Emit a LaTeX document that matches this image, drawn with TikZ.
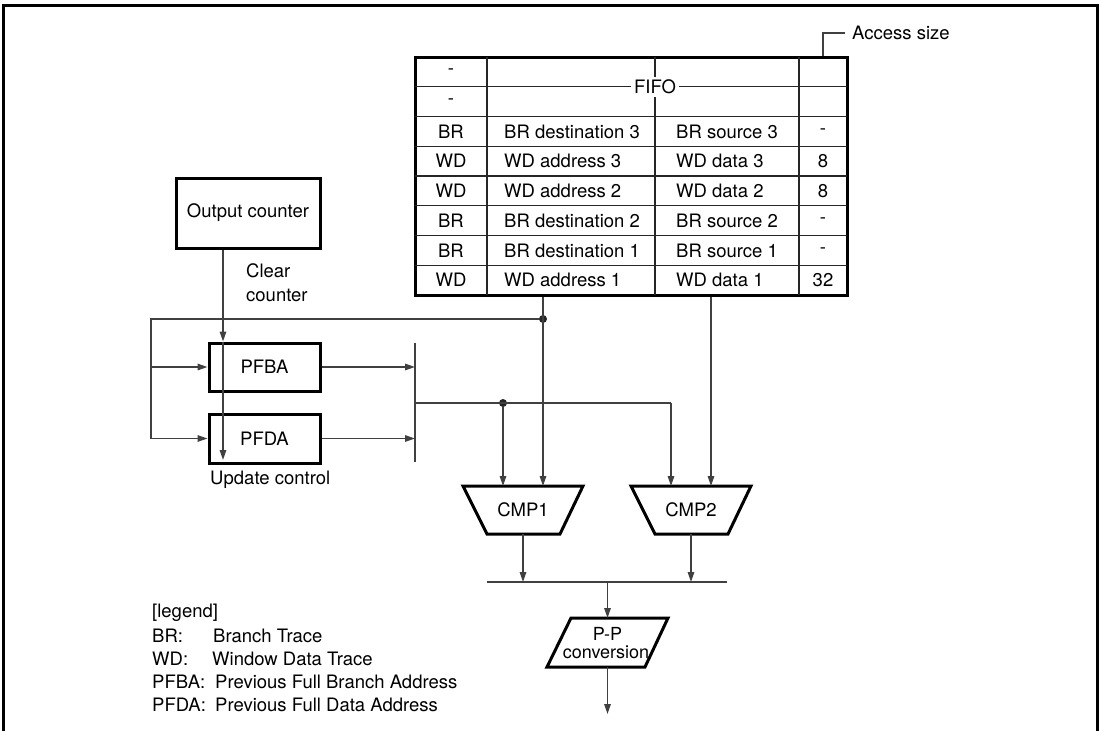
\documentclass[tikz,border=0pt]{standalone}
\usepackage{fontspec}
\setmainfont{TeX Gyre Heros}
\usetikzlibrary{arrows.meta}
\begin{document}
\begin{tikzpicture}[x=1pt,y=-1pt,
  txt/.style={font=\fontsize{18.5}{16}\selectfont, inner sep=0pt},
  box/.style={draw, line width=3pt, txt},
  grid/.style={line width=1.3pt, draw=black!85},
  conn/.style={line width=1.4pt, draw=black!75},
  arr/.style={conn, -{Triangle[length=10pt,width=6.5pt]}},
  dot/.style={circle, fill=black!85, inner sep=0pt, minimum size=8pt},
  frame/.style={line width=3pt}
]
\useasboundingbox (0,0) rectangle (1101,731);
\draw[frame] (3.5,731) -- (3.5,5) -- (1097,5) -- (1097,731);

% ---------- FIFO table ----------
\node[draw, line width=3pt, minimum width=432pt, minimum height=238pt, inner sep=0pt] (fifo) at (631,176) {};
\foreach \xx in {487,655,799} \draw[grid] (\xx,57) -- (\xx,295);
\foreach \yy in {86.75,116.5,146.25,176,205.75,235.5,265.25} \draw[grid] (415,\yy) -- (847,\yy);
\node[txt, fill=white, inner xsep=3pt, inner ysep=3pt] (fifolbl) at (655,87) {FIFO};
\node[txt] (r1a) at (451,72) {-};
\node[txt] (r2a) at (451,101.6) {-};
\foreach \yy/\a/\b/\c/\d [count=\i] in {
  131.4/BR/BR destination 3/BR source 3/-,
  161.1/WD/WD address 3/WD data 3/8,
  190.9/WD/WD address 2/WD data 2/8,
  220.6/BR/BR destination 2/BR source 2/-,
  250.4/BR/BR destination 1/BR source 1/-,
  280.1/WD/WD address 1/WD data 1/32}{
  \node[txt] (ca\i) at (451,\yy) {\a};
  \node[txt, anchor=west] (cb\i) at (504,\yy) {\b};
  \node[txt, anchor=west] (cc\i) at (676,\yy) {\c};
  \node[txt] (cd\i) at (823,\yy) {\d};
}
% access size
\node[txt, anchor=west] (acc) at (852,33) {Access size};
\coordinate (accend) at (845,33);
\draw[conn] (fifo.north -| 823,0) |- (accend);

% ---------- Output counter, PFBA, PFDA ----------
\node[box, minimum width=144pt, minimum height=70pt] (oc) at (248,213) {Output counter};
\node[box, minimum width=111pt, minimum height=48pt] (pfba) at (264.5,367) {PFBA};
\node[box, minimum width=111pt, minimum height=49pt] (pfda) at (264.5,438.5) {PFDA};
\node[txt, anchor=north west, align=left] (clr) at (246,263) {Clear\\[8pt]counter};
\node[txt, anchor=west] (upd) at (210,480) {Update control};

\draw[arr] (oc.south -| 223,0) -- (pfba.north -| 223,0);
\coordinate (uend) at (223,460);
\draw[arr] (pfba.north -| 223,0) -- (uend);

% bus
\coordinate (bustop) at (415,343);
\coordinate (busbot) at (415,462);
\draw[conn] (bustop) -- (busbot);
\draw[arr] (pfba.east) -- (pfba.east -| bustop);
\draw[arr] (pfda.east) -- (pfda.east -| bustop);

% ---------- CMP blocks ----------
\draw[line width=3pt] (463,486) -- (583,486) -- (560,534) -- (487,534) -- cycle;
\node[txt] (cmp1) at (523,510) {CMP1};
\draw[line width=3pt] (631,486) -- (751,486) -- (728,534) -- (655,534) -- cycle;
\node[txt] (cmp2) at (691,510) {CMP2};
\coordinate (c1a) at (503,486);
\coordinate (c1b) at (543,486);
\coordinate (c2a) at (671,486);
\coordinate (c2b) at (711,486);

% feedback loop from FIFO
\node[dot] (d1) at (543,319) {};
\coordinate (lcorner) at (151,319);
\draw[conn] (d1) -- (lcorner) -- (151,438.5);
\draw[arr] (151,367) -- (pfba.west);
\draw[arr] (151,438.5) -- (pfda.west);
\draw[arr] (fifo.south -| c1b) -- (c1b);
\draw[arr] (fifo.south -| c2b) -- (c2b);

% bus to comparators
\node[dot] (d2) at (503,403) {};
\coordinate (bm) at (415,403);
\coordinate (bright) at (671,403);
\draw[conn] (bm) -- (bright);
\draw[arr] (d2) -- (c1a);
\draw[arr] (bright) -- (c2a);

% output bus
\coordinate (ob1) at (487,582);
\coordinate (ob2) at (727,582);
\draw[conn] (ob1) -- (ob2);
\draw[arr] (523,534) -- (523,582);
\draw[arr] (691,534) -- (691,582);

% P-P conversion
\draw[line width=3pt] (571,618) -- (668,618) -- (645,667) -- (547,667) -- cycle;
\node[txt, font=\fontsize{18}{18}\selectfont] (pp1) at (607.5,634) {P-P};
\node[txt, font=\fontsize{18}{18}\selectfont] (pp2) at (606,652) {conversion};
\coordinate (ppin) at (607.5,618);
\coordinate (ppout) at (607.5,667);
\coordinate (ppend) at (607.5,714);
\draw[arr] (607.5,582) -- (ppin);
\draw[arr] (ppout) -- (ppend);

% ---------- legend ----------
\node[txt, anchor=west] (lg0) at (152,613) {[legend]};
\node[txt, anchor=west] (lg1) at (152,636) {BR:};
\node[txt, anchor=west] (lg1t) at (213,636) {Branch Trace};
\node[txt, anchor=west] (lg2) at (152,659) {WD:};
\node[txt, anchor=west] (lg2t) at (212,659) {Window Data Trace};
\node[txt, anchor=west] (lg3) at (152,682) {PFBA:};
\node[txt, anchor=west] (lg3t) at (215,682) {Previous Full Branch Address};
\node[txt, anchor=west] (lg4) at (152,705) {PFDA:};
\node[txt, anchor=west] (lg4t) at (215,705) {Previous Full Data Address};
\end{tikzpicture}
\end{document}
